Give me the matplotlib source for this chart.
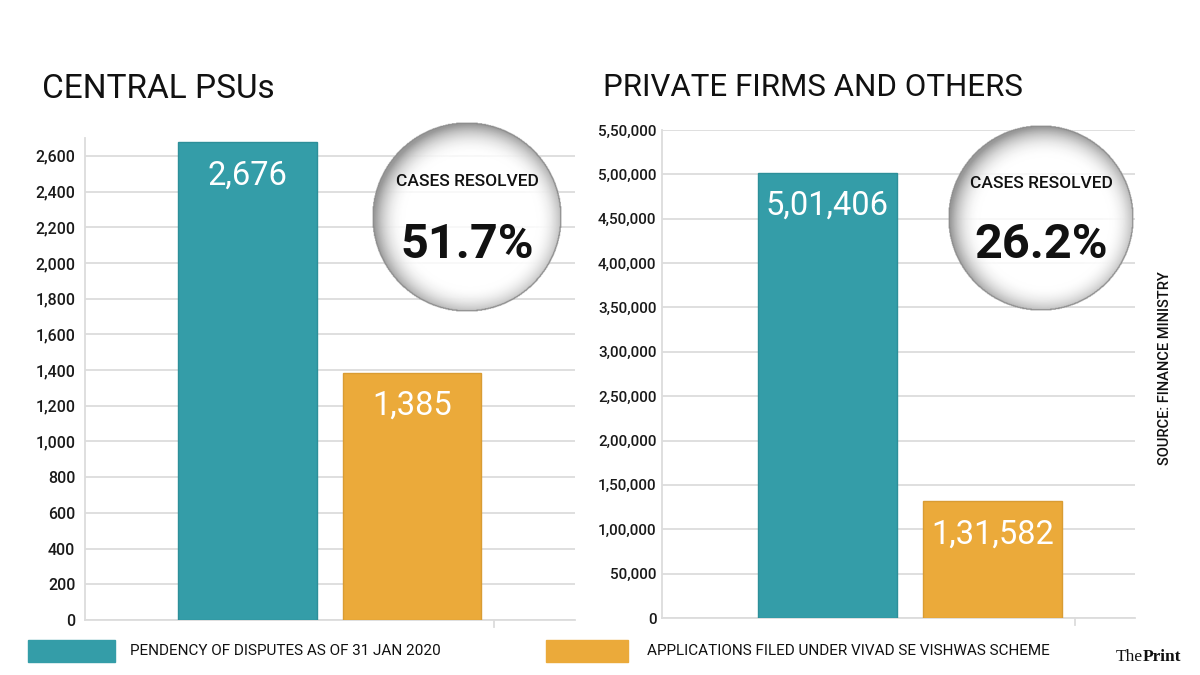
import numpy as np
import matplotlib
matplotlib.use('Agg')
import matplotlib.pyplot as plt
from matplotlib.patches import Rectangle
from matplotlib.ticker import FuncFormatter

# data
series_names=['PENDENCY OF DISPUTES AS OF 31 JAN 2020','APPLICATIONS FILED UNDER VIVAD SE VISHWAS SCHEME']
psu_values=[2676,1385]
psu_labels=['2,676','1,385']
psu_resolved='51.7%'
pvt_values=[501406,131582]
pvt_labels=['5,01,406','1,31,582']
pvt_resolved='26.2%'
psu_ticks=list(range(0,2601,200))
pvt_ticks=list(range(0,550001,50000))

TEAL='#349DA8'
ORANGE='#EBAA3A'
GRID='#dcdcdc'
W,H=1200,675

plt.rcParams['font.family']=['Roboto','DejaVu Sans']

def indian(v,pos=None):
    s=str(int(v))
    if len(s)<=3:
        return s
    last=s[-3:]
    rest=s[:-3]
    parts=[]
    while len(rest)>2:
        parts.insert(0,rest[-2:])
        rest=rest[:-2]
    if rest:
        parts.insert(0,rest)
    return ','.join(parts+[last])

def px_axes(fig,x0,y0,x1,y1):
    # pixel box (top-left origin) -> figure fraction
    return fig.add_axes([x0/W,(H-y1)/H,(x1-x0)/W,(y1-y0)/H])

def bar_panel(ax,values,labels,ticks,ymax,xlim,pad,lsize):
    ax.bar([0,1],values,width=0.845,color=[TEAL,ORANGE],edgecolor=['#2d8f99','#d99c33'],linewidth=1,zorder=3)
    ax.set_xlim(*xlim)
    ax.set_ylim(0,ymax)
    ax.set_yticks(ticks)
    ax.yaxis.set_major_formatter(FuncFormatter(indian))
    ax.set_xticks([])
    ax.grid(axis='y',color=GRID,lw=1.3,zorder=0)
    for s in ('top','right'):
        ax.spines[s].set_visible(False)
    ax.spines['left'].set_color(GRID)
    ax.spines['left'].set_linewidth(1.3)
    ax.spines['bottom'].set_color(GRID)
    ax.spines['bottom'].set_linewidth(1.3)
    ax.tick_params(axis='y',length=0,pad=pad,labelsize=lsize,labelcolor='#1a1a1a')
    for t in ax.get_yticklabels():
        t.set_fontweight(500)
    ax.plot([1.5,1.5],[0,-ymax*0.015],color=GRID,lw=1.3,clip_on=False)
    for i,(v,l) in enumerate(zip(values,labels)):
        ax.annotate(l,(i,v),xytext=(0,-42),textcoords='offset pixels',ha='center',va='baseline',
                    color='white',fontsize=23.5,zorder=4)

def bubble(fig,cx,cy,r,pct):
    ax=px_axes(fig,cx-r,cy-r,cx+r,cy+r)
    n=300
    yy,xx=np.mgrid[-1:1:n*1j,-1:1:n*1j]
    d=np.hypot(xx,yy)
    d2=np.hypot(xx-0.04,yy-0.04)
    v=1-np.clip((d2-0.7)/0.32,0,1)**2*0.4
    v=np.where(d>0.985,0.55,v)
    img=np.zeros((n,n,4))
    img[...,0]=v;img[...,1]=v;img[...,2]=v
    img[...,3]=np.where(d<=1,0.8+0.2*np.clip((d-0.65)/0.3,0,1),0)
    ax.imshow(img,extent=[-1,1,-1,1],origin='upper',interpolation='bilinear')
    ax.set_xlim(-1,1);ax.set_ylim(-1,1)
    ax.axis('off')
    ax.text(0,0.37,'CASES RESOLVED',ha='center',va='center',fontsize=12.5,fontweight=500,color='#111111')
    ax.text(0,-0.29,pct,ha='center',va='center',fontsize=35,fontweight='bold',color='#111111')

fig=plt.figure(figsize=(12,6.75),dpi=100)
fig.patch.set_facecolor('white')

ax1=px_axes(fig,85,138,575,620)
bar_panel(ax1,psu_values,psu_labels,psu_ticks,2700,(-0.988,1.991),7,11.5)
ax2=px_axes(fig,662,130,1135,618)
bar_panel(ax2,pvt_values,pvt_labels,pvt_ticks,550000,(-1.003,1.864),4,11)

bubble(fig,467,217,95,psu_resolved)
bubble(fig,1041,218,93,pvt_resolved)

fig.text(42/W,(H-98)/H,'CENTRAL PSUs',fontsize=24,va='baseline',ha='left',color='#111111')
fig.text(603/W,(H-96)/H,'PRIVATE FIRMS AND OTHERS',fontsize=22.5,va='baseline',ha='left',color='#111111')

# legend
fig.patches.append(Rectangle((28/W,(H-662)/H),87/W,22/H,transform=fig.transFigure,color=TEAL))
fig.text(130/W,(H-651)/H,series_names[0],fontsize=11,va='center',ha='left',color='#111111')
fig.patches.append(Rectangle((546/W,(H-662)/H),82/W,22/H,transform=fig.transFigure,color=ORANGE))
fig.text(647/W,(H-651)/H,series_names[1],fontsize=11,va='center',ha='left',color='#111111')

fig.text(1165/W,(H-368)/H,'SOURCE: FINANCE MINISTRY',rotation=90,fontsize=10.5,fontweight=500,ha='center',va='center',color='#111111')
fig.text(1143/W,(H-657)/H,'The',family='Liberation Serif',fontsize=12.5,ha='right',va='center',color='#111111')
fig.text(1143/W,(H-657)/H,'Print',family='Liberation Serif',fontweight='bold',fontsize=12.5,ha='left',va='center',color='#111111')

fig.savefig('out.png',dpi=100)
